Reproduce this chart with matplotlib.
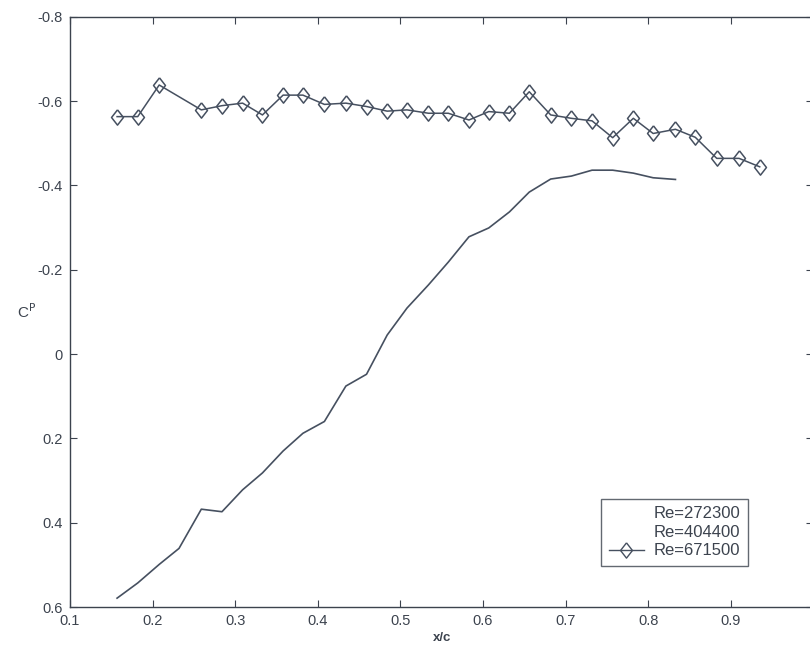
import matplotlib
matplotlib.use("Agg")
import matplotlib.pyplot as plt
from matplotlib.lines import Line2D

plt.rcParams["font.family"] = ["Liberation Sans", "DejaVu Sans"]
plt.rcParams["axes.unicode_minus"] = False

# Pressure coefficient along the chord, Re = 671500 (diamond markers)
x_671500 = [0.157, 0.182, 0.208, 0.259, 0.284, 0.309, 0.333, 0.358, 0.382, 0.408,
            0.434, 0.459, 0.484, 0.508, 0.534, 0.558, 0.583, 0.607, 0.632, 0.656,
            0.682, 0.707, 0.732, 0.757, 0.782, 0.806, 0.833, 0.857, 0.883, 0.910,
            0.935]
cp_671500 = [-0.563, -0.563, -0.638, -0.579, -0.589, -0.595, -0.567, -0.614, -0.614, -0.592,
             -0.595, -0.587, -0.576, -0.579, -0.571, -0.571, -0.555, -0.575, -0.571, -0.622,
             -0.567, -0.559, -0.553, -0.513, -0.559, -0.523, -0.533, -0.514, -0.464, -0.464,
             -0.444]

# Pressure coefficient along the chord, Re = 272300 (solid line)
x_272300 = [0.157, 0.182, 0.208, 0.232, 0.259, 0.284, 0.309, 0.333, 0.358, 0.382,
            0.408, 0.434, 0.459, 0.484, 0.508, 0.534, 0.558, 0.583, 0.607, 0.632,
            0.656, 0.682, 0.707, 0.732, 0.757, 0.782, 0.806, 0.833]
cp_272300 = [0.579, 0.543, 0.499, 0.461, 0.368, 0.374, 0.322, 0.282, 0.230, 0.188,
             0.160, 0.076, 0.048, -0.045, -0.109, -0.164, -0.218, -0.278, -0.299, -0.337,
             -0.384, -0.415, -0.422, -0.436, -0.436, -0.429, -0.418, -0.414]

legend_labels = ["Re=272300", "Re=404400", "Re=671500"]
x_ticks = [0.1, 0.2, 0.3, 0.4, 0.5, 0.6, 0.7, 0.8, 0.9]
y_ticks = [-0.8, -0.6, -0.4, -0.2, 0, 0.2, 0.4, 0.6]
y_tick_labels = ["-0.8", "-0.6", "-0.4", "-0.2", "0", "0.2", "0.4", "0.6"]
x_tick_labels = ["0.1", "0.2", "0.3", "0.4", "0.5", "0.6", "0.7", "0.8", "0.9"]

ink = "#3c434e"
line_col = "#465060"

fig = plt.figure(figsize=(8.10, 6.47), dpi=100)
ax = fig.add_axes([0.0864, 0.0618, 0.9178, 0.9124])

diamond = [(0, 1), (0.78, 0), (0, -1), (-0.78, 0), (0, 1)]

ax.plot(x_272300, cp_272300, color=line_col, lw=1.2)
ax.plot(x_671500, cp_671500, color=line_col, lw=1.1, marker=diamond,
        markersize=11, markerfacecolor="none", markeredgecolor=line_col,
        markeredgewidth=1.1)

ax.set_xlim(0.1, 1.0)
ax.set_ylim(0.6, -0.8)
ax.set_xticks(x_ticks)
ax.set_xticklabels(x_tick_labels)
ax.set_yticks(y_ticks)
ax.set_yticklabels(y_tick_labels)
ax.tick_params(direction="in", top=True, right=True, length=5, width=0.8,
               colors=ink, labelsize=10.5, pad=5)
for s in ax.spines.values():
    s.set_color(ink)
    s.set_linewidth(1.0)

ax.set_xlabel("x/c", fontsize=9.5, fontweight="bold", color=ink, labelpad=3)
ax.set_ylabel(r"C$^{\mathrm{P}}$", fontsize=11, color=ink, rotation=0,
              labelpad=14, va="center")
ax.yaxis.set_label_coords(-0.058, 0.50)

handles = [
    Line2D([], [], linestyle="none"),
    Line2D([], [], linestyle="none"),
    Line2D([], [], color=line_col, lw=1.0, marker=diamond, markersize=11,
           markerfacecolor="none", markeredgecolor=line_col),
]
leg = ax.legend(handles, legend_labels, loc="lower right",
                bbox_to_anchor=(0.912, 0.0695), fontsize=12, frameon=True,
                fancybox=False, edgecolor=ink, handlelength=2.1,
                handletextpad=0.6, borderpad=0.45, labelspacing=0.22,
                borderaxespad=0)
leg.get_frame().set_linewidth(1.0)
for t in leg.get_texts():
    t.set_color(ink)

fig.savefig("out.png", dpi=100)
